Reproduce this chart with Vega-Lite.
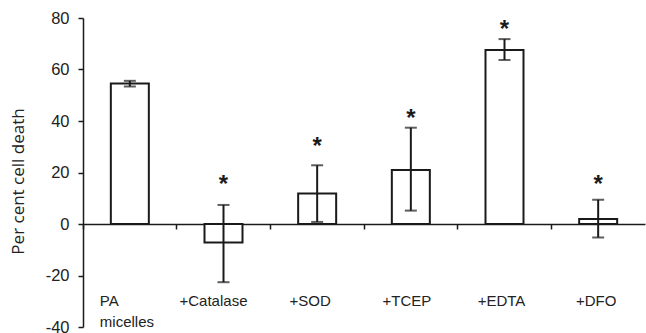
{
  "$schema": "https://vega.github.io/schema/vega-lite/v6.json",
  "autosize": {"type": "none"},
  "padding": {"left": 83, "top": 18, "right": 1, "bottom": 6},
  "width": 562,
  "height": 309,
  "background": "white",
  "config": {"view": {"stroke": null}, "font": "Liberation Sans"},
  "data": {"values": [
    {"cat": "PA micelles", "v": 54.6, "lo": 53.4, "hi": 55.6, "star": null},
    {"cat": "+Catalase", "v": -7.2, "lo": -22.6, "hi": 7.4, "star": 17.9},
    {"cat": "+SOD", "v": 11.8, "lo": 0.8, "hi": 22.8, "star": 32.6},
    {"cat": "+TCEP", "v": 21.0, "lo": 5.2, "hi": 37.4, "star": 43.5},
    {"cat": "+EDTA", "v": 67.6, "lo": 63.7, "hi": 71.8, "star": 78.0},
    {"cat": "+DFO", "v": 1.9, "lo": -5.2, "hi": 9.4, "star": 17.9}
  ]},
  "encoding": {
    "x": {"field": "cat", "type": "nominal", "sort": null,
      "scale": {"paddingInner": 0, "paddingOuter": 0},
      "axis": {"title": null, "offset": -103, "bandPosition": 0,
        "domainColor": "#1a1a1a", "domainWidth": 1.5, "tickColor": "#1a1a1a", "tickWidth": 1.5, "tickSize": 5,
        "labelAngle": 0, "labelFontSize": 15, "labelColor": "#222", "labelPadding": 71, "labelBaseline": "middle",
        "labelLineHeight": 21,
        "labelExpr": "datum.label == 'PA micelles' ? ['PA', 'micelles'] : datum.label",
        "labelAlign": {"condition": {"test": "datum.value == 'PA micelles'", "value": "left"}, "value": "center"},
        "labelOffset": {"condition": [
          {"test": "datum.value == 'PA micelles'", "value": -30},
          {"test": "datum.value == '+Catalase'", "value": -10},
          {"test": "datum.value == '+SOD'", "value": -7},
          {"test": "datum.value == '+TCEP'", "value": -4},
          {"test": "datum.value == '+EDTA'", "value": -3}
        ], "value": -2}
      }
    }
  },
  "layer": [
    {
      "mark": {"type": "bar", "fill": "white", "stroke": "#1a1a1a", "strokeWidth": 2, "width": 38},
      "encoding": {
        "y": {"field": "v", "type": "quantitative",
          "scale": {"domain": [-40, 80], "nice": false},
          "axis": {"values": [-40, -20, 0, 20, 40, 60, 80], "grid": false, "title": "Per cent cell death",
            "labelExpr": "replace(datum.label, '\u2212', '-')",
            "titleFont": "Open Sans", "titleFontSize": 17, "titleFontWeight": "normal", "titleColor": "#222",
            "titleX": -65, "titleY": 163, "titleBaseline": "middle", "titleAlign": "center", "titleAngle": -90,
            "labelFontSize": 16.5, "labelColor": "#222", "labelPadding": 9,
            "domainColor": "#1a1a1a", "domainWidth": 1.5, "tickColor": "#1a1a1a", "tickWidth": 1.5, "tickSize": 5}},
        "y2": {"datum": 0}
      }
    },
    {
      "mark": {"type": "rule", "stroke": "#1a1a1a", "strokeWidth": 2},
      "encoding": {
        "y": {"field": "lo", "type": "quantitative"},
        "y2": {"field": "hi"}
      }
    },
    {
      "mark": {"type": "tick", "color": "#1a1a1a", "thickness": 2, "size": 12, "orient": "horizontal"},
      "encoding": {"y": {"field": "lo", "type": "quantitative"}}
    },
    {
      "mark": {"type": "tick", "color": "#1a1a1a", "thickness": 2, "size": 12, "orient": "horizontal"},
      "encoding": {"y": {"field": "hi", "type": "quantitative"}}
    },
    {
      "transform": [{"filter": "datum.star != null"}],
      "mark": {"type": "text", "text": "*", "fontSize": 24, "fontWeight": "bold", "color": "#1a1a1a", "baseline": "alphabetic", "dy": 14},
      "encoding": {"y": {"field": "star", "type": "quantitative"}}
    }
  ]
}
